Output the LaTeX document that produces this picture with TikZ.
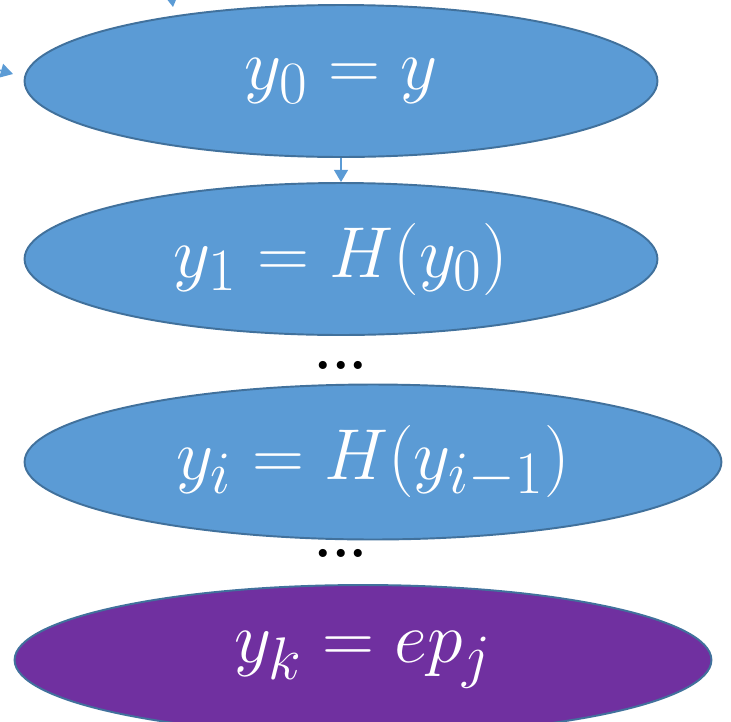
\documentclass[tikz,border=0pt]{standalone}
\usepackage{tikz}
\usetikzlibrary{
  arrows.meta,
  shapes.geometric
}
\usepackage{graphicx}
\usepackage{xcolor}
\usepackage{amsmath}
\definecolor{chblue}{HTML}{5B9BD5}
\definecolor{chedge}{HTML}{41719C}
\definecolor{chpurple}{HTML}{7030A0}
\newcommand{\hashtext}[1]{\scalebox{1.65}{$#1$}}

\begin{document}
\begin{tikzpicture}[
  x=0.02cm, y=-0.02cm,
  hashnode/.style={ellipse, draw=chedge, line width=1.1pt, fill=chblue,
    text=white, inner sep=0pt, font=\fontsize{24.88}{30}\selectfont},
  endnode/.style={hashnode, fill=chpurple},
  dotsnode/.style={font=\fontsize{32}{36}\selectfont\bfseries, inner sep=0pt},
  link/.style={draw=chblue, line width=0.9pt, -{Triangle[length=7pt, width=8pt]}}
]
  \useasboundingbox (0,0) rectangle (731,721);

  \node[hashnode, minimum width=12.66cm, minimum height=3.04cm] (y0) at (341,81) {\hashtext{y_0 = y}};
  \node[hashnode, minimum width=12.66cm, minimum height=3.04cm] (y1) at (341,259) {\hashtext{y_1 = H(y_0)}};
  \node[dotsnode] (dotsA) at (341,365) {...};
  \node[hashnode, minimum width=13.94cm, minimum height=3.10cm] (yi) at (373,462) {\hashtext{y_i = H(y_{i-1})}};
  \node[dotsnode] (dotsB) at (341,553) {...};
  \node[endnode, minimum width=13.94cm, minimum height=3.0cm] (yk) at (363,660) {\hashtext{y_k = ep_j}};

  % incoming links from outside the view
  \coordinate (inTop) at (160,-90);
  \coordinate (tipTop) at (173,7);
  \coordinate (inLeft) at (-90,45);
  \coordinate (tipLeft) at (13,74);
  \draw[link] (inTop) -- (tipTop);
  \draw[link] (inLeft) -- (tipLeft);

  \draw[link] (y0) -- (y1);

\end{tikzpicture}
\end{document}
